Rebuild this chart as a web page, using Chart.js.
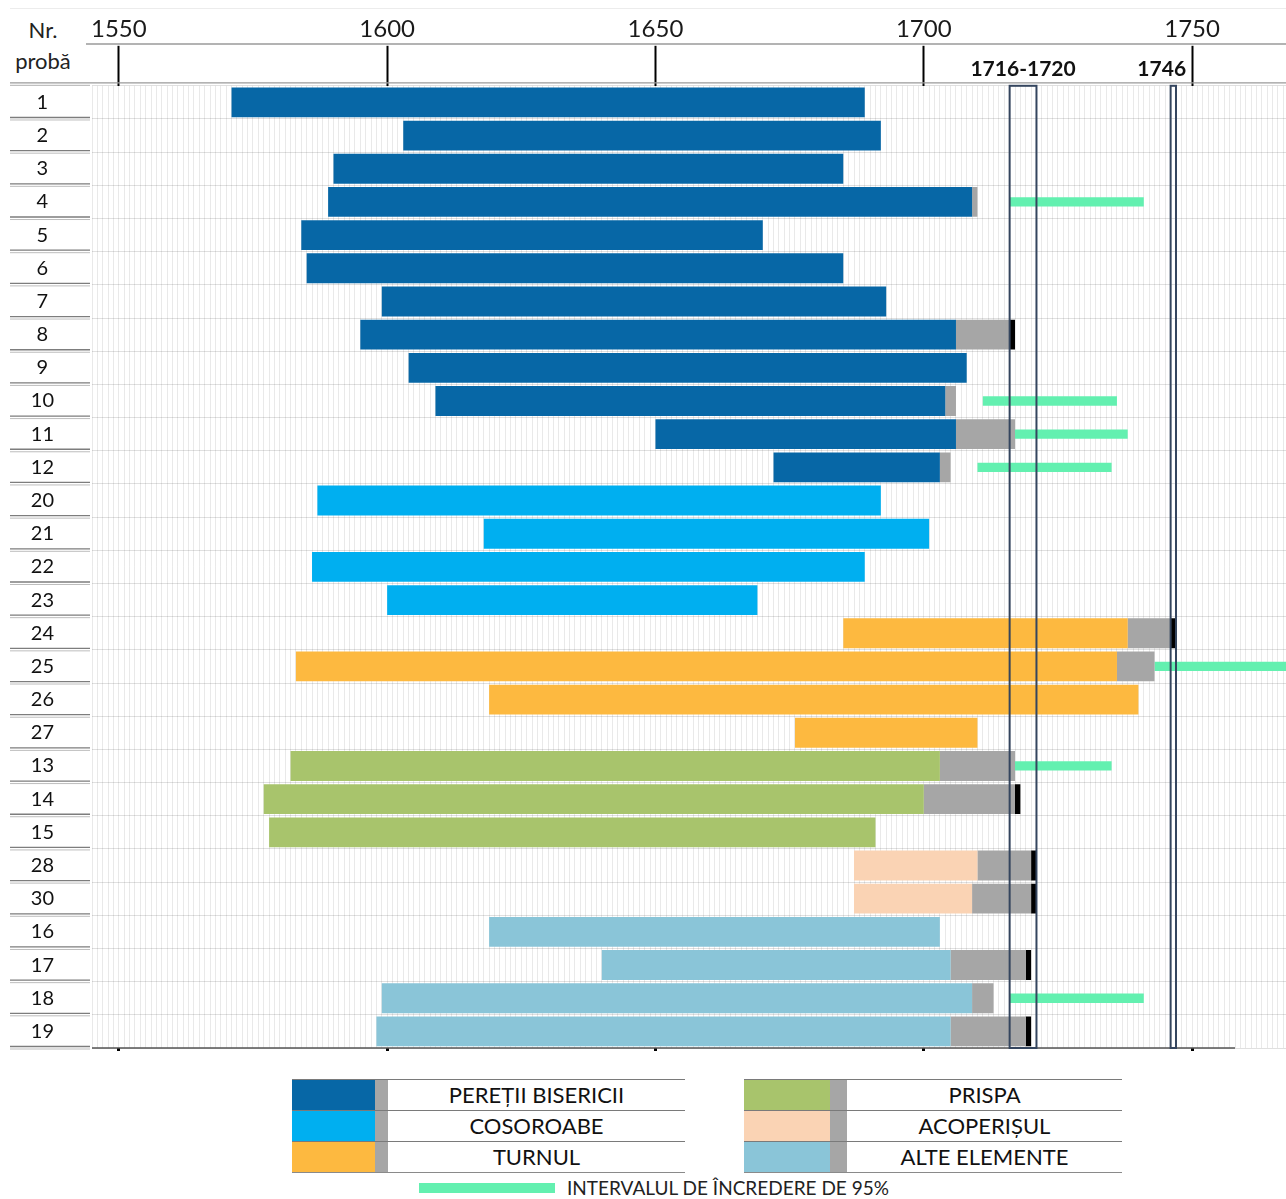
<!DOCTYPE html>
<html lang="ro">
<head>
<meta charset="utf-8">
<title>Datarea probelor de lemn</title>
<script src="https://cdn.jsdelivr.net/npm/chart.js@4.4.1/dist/chart.umd.min.js"></script>
<style>
  html, body { margin: 0; padding: 0; background: #fff; }
  body { width: 1286px; height: 1199px; position: relative; overflow: hidden;
         font-family: Lato, "Open Sans", "DejaVu Sans", sans-serif; color: #111; }
  #wrap { position: absolute; left: 0; top: 0; width: 1286px; height: 1060px; }
  .hdr { position: absolute; left: 0; width: 86px; text-align: center; font-size: 22px; line-height: 26px; color: #222; }
  .legcol { position: absolute; top: 1079px; }
  .legrow { display: flex; height: 30px; border-top: 1.3px solid #7a7a7a; }
  .legrow:last-child { border-bottom: 1.3px solid #8a8a8a; }
  .sw { height: 100%; }
  .sap { height: 100%; background: #a6a6a6; }
  .lab { flex: 1; text-align: center; font-size: 22px; line-height: 30px; color: #111; }
  #ci { position: absolute; top: 1177px; left: 419px; height: 22px; display: flex; align-items: center; }
  #ci .bar { width: 136px; height: 10px; }
  #ci span { margin-left: 12px; font-size: 19px; line-height: 22px; color: #222; }
</style>
</head>
<body>
<div class="hdr" style="top:17px">Nr.</div>
<div class="hdr" style="top:48px">probă</div>
<div id="wrap"><canvas id="chart" width="1286" height="1060"></canvas></div>
<div id="legend"></div>

<script>
// Sample numbers, top to bottom
const probe = ['1','2','3','4','5','6','7','8','9','10','11','12',
               '20','21','22','23','24','25','26','27',
               '13','14','15','28','30','16','17','18','19'];

// Structural element of each sample (index into elementNames)
const elementNames = ['PEREȚII BISERICII','COSOROABE','TURNUL','PRISPA','ACOPERIȘUL','ALTE ELEMENTE'];
const element = [0,0,0,0,0,0,0,0,0,0,0,0,
                 1,1,1,1,
                 2,2,2,2,
                 3,3,3,
                 4,4,
                 5,5,5,5];

// Ring series: first ring, end of heartwood, end of sapwood, bark ring
const firstRing = [1571,1603,1590,1589,1584,1585,1599,1595,1604,1609,1650,1672,
                   1587,1618,1586,1600,
                   1685,1583,1619,1676,
                   1582,1577,1578,
                   1687,1687,
                   1619,1640,1599,1598];
const heartwoodEnd = [1689,1692,1685,1709,1670,1685,1693,1706,1708,1704,1706,1703,
                      1692,1701,1689,1669,
                      1738,1736,1740,1710,
                      1703,1700,1691,
                      1710,1709,
                      1703,1705,1709,1705];
const sapwoodEnd = [null,null,null,1710,null,null,null,1716,null,1706,1717,1705,
                    null,null,null,null,
                    1746,1743,null,null,
                    1717,1717,null,
                    1720,1720,
                    null,1719,1713,1719];
const barkEnd = [null,null,null,null,null,null,null,1717,null,null,null,null,
                 null,null,null,null,
                 1747,null,null,null,
                 null,1718,null,
                 1721,1721,
                 null,1720,null,1720];

// Estimated felling dates, 95% confidence interval
const ciStart = [null,null,null,1716,null,null,null,null,null,1711,1717,1710,
                 null,null,null,null,
                 null,1743,null,null,
                 1717,null,null,
                 null,null,
                 null,null,1716,null];
const ciEnd = [null,null,null,1741,null,null,null,null,null,1736,1738,1735,
               null,null,null,null,
               null,1770,null,null,
               1735,null,null,
               null,null,
               null,null,1741,null];

// Felling phases marked on the chart
const phases = [
  { from: 1716, to: 1721, label: '1716-1720' },
  { from: 1746, to: 1747, label: '1746' }
];

// Time axis
const yearMin = 1545;
const yearMax = 1767.5;
const majorTicks = [1550, 1600, 1650, 1700, 1750];
const axisLineEnd = 1758;

// Colours
const elementColors = ['#0767a6', '#00aff0', '#fdb940', '#a8c46c', '#fad3b4', '#8ac5d8'];
const sapColor = '#a6a6a6';
const barkColor = '#000000';
const ciColor = '#63f0b0';
const FONT = 'Lato, "Open Sans", sans-serif';

const pair = (a, b) => a.map((v, i) => (v === null || b[i] === null) ? null : [v, b[i]]);

const yearlyTicks = [];
for (let yv = Math.ceil(yearMin); yv <= yearMax; yv++) yearlyTicks.push({ value: yv });

const frame = {
  id: 'frame',
  afterDraw(chart) {
    const { ctx, chartArea: a, scales: { x, y } } = chart;
    const W = chart.width;
    const line = (x0, y0, x1, y1, c, w) => {
      ctx.beginPath(); ctx.strokeStyle = c; ctx.lineWidth = w;
      ctx.moveTo(x0, y0); ctx.lineTo(x1, y1); ctx.stroke();
    };
    ctx.save();
    line(10, 8.5, W, 8.5, '#ececec', 1);
    line(86, 44, W, 44, '#9a9a9a', 1.3);
    line(10, a.top - 3, W, a.top - 3, '#9a9a9a', 1.3);
    line(10, a.top - 0.5, a.left - 2, a.top - 0.5, '#b0b0b0', 1);
    for (let i = 1; i <= probe.length; i++) {
      const yy = y.getPixelForValue(i - 0.5);
      line(10, yy - 1.5, a.left - 2, yy - 1.5, '#7d7d7d', 1.3);
      line(10, yy + 1, a.left - 2, yy + 1, '#bdbdbd', 1);
    }
    line(a.left, a.bottom, x.getPixelForValue(axisLineEnd), a.bottom, '#555', 1.6);

    ctx.font = 'bold 21px ' + FONT;
    ctx.textBaseline = 'middle';
    ctx.textAlign = 'center';
    phases.forEach(p => {
      const x0 = x.getPixelForValue(p.from);
      const x1 = x.getPixelForValue(p.to);
      ctx.strokeStyle = '#34455e';
      ctx.lineWidth = 2;
      ctx.strokeRect(x0, a.top, x1 - x0, a.bottom - a.top);
      const w = ctx.measureText(p.label).width;
      let cx = (x0 + x1) / 2;
      const nextTick = majorTicks.find(t => t >= p.from);
      if (nextTick !== undefined) {
        const limit = x.getPixelForValue(nextTick) - 6;
        if (cx + w / 2 > limit) cx = limit - w / 2;
      }
      ctx.fillStyle = '#111';
      ctx.fillText(p.label, cx, a.top - 17);
    });
    ctx.restore();
  }
};

new Chart(document.getElementById('chart'), {
  type: 'bar',
  data: {
    labels: probe,
    datasets: [
      { label: 'lemn', data: pair(firstRing, heartwoodEnd),
        backgroundColor: element.map(e => elementColors[e]),
        grouped: false, barPercentage: 0.9, categoryPercentage: 1 },
      { label: 'alburn', data: pair(heartwoodEnd, sapwoodEnd),
        backgroundColor: sapColor, grouped: false, barPercentage: 0.9, categoryPercentage: 1 },
      { label: 'scoarță', data: pair(sapwoodEnd, barkEnd),
        backgroundColor: barkColor, grouped: false, barPercentage: 0.9, categoryPercentage: 1 },
      { label: 'interval 95%', data: pair(ciStart, ciEnd),
        backgroundColor: ciColor, grouped: false, barPercentage: 0.28, categoryPercentage: 1 }
    ]
  },
  options: {
    indexAxis: 'y',
    responsive: false,
    animation: false,
    layout: { padding: { top: 13, left: 10, right: 0, bottom: 9 } },
    plugins: { legend: { display: false }, tooltip: { enabled: false } },
    scales: {
      x: {
        type: 'linear', position: 'bottom', min: yearMin, max: yearMax,
        afterBuildTicks: s => { s.ticks = yearlyTicks.slice(); },
        grid: {
          color: 'rgba(0,0,0,0.085)', lineWidth: 1,
          tickLength: 3, tickWidth: 3,
          tickColor: c => (c.tick && c.tick.value % 50 === 0) ? '#000' : 'rgba(0,0,0,0)'
        },
        border: { display: false },
        ticks: { display: false }
      },
      x2: {
        type: 'linear', position: 'top', min: yearMin, max: yearMax,
        afterBuildTicks: s => { s.ticks = majorTicks.map(v => ({ value: v })); },
        grid: { drawOnChartArea: false, tickLength: 40, tickWidth: 2, tickColor: '#000' },
        border: { display: false },
        ticks: { font: { family: FONT, size: 24 }, color: '#1a1a1a', padding: 2,
                 maxRotation: 0, autoSkip: false, callback: v => String(v) }
      },
      y: {
        type: 'category', offset: true,
        grid: { color: 'rgba(0,0,0,0.12)', drawTicks: false, offset: true },
        border: { display: false },
        ticks: { font: { family: FONT, size: 20 }, color: '#111', crossAlign: 'center', padding: 38 },
        afterFit: s => { s.width = 82; s.paddingTop = 0; s.paddingBottom = 0; }
      }
    }
  },
  plugins: [frame]
});

// Legend: two columns of structural elements, then the confidence interval key
(function buildLegend() {
  const host = document.getElementById('legend');
  const cols = [
    { left: 292, width: 393, sw: 83, sap: 13, items: [0, 1, 2] },
    { left: 744, width: 378, sw: 86, sap: 17, items: [3, 4, 5] }
  ];
  cols.forEach(c => {
    const col = document.createElement('div');
    col.className = 'legcol';
    col.style.left = c.left + 'px';
    col.style.width = c.width + 'px';
    c.items.forEach(i => {
      const row = document.createElement('div');
      row.className = 'legrow';
      row.innerHTML = '<div class="sw" style="width:' + c.sw + 'px;background:' + elementColors[i] + '"></div>' +
                      '<div class="sap" style="width:' + c.sap + 'px"></div>' +
                      '<div class="lab">' + elementNames[i] + '</div>';
      col.appendChild(row);
    });
    host.appendChild(col);
  });
  const ci = document.createElement('div');
  ci.id = 'ci';
  ci.innerHTML = '<div class="bar" style="background:' + ciColor + '"></div><span>INTERVALUL DE ÎNCREDERE DE 95%</span>';
  host.appendChild(ci);
})();
</script>
</body>
</html>
